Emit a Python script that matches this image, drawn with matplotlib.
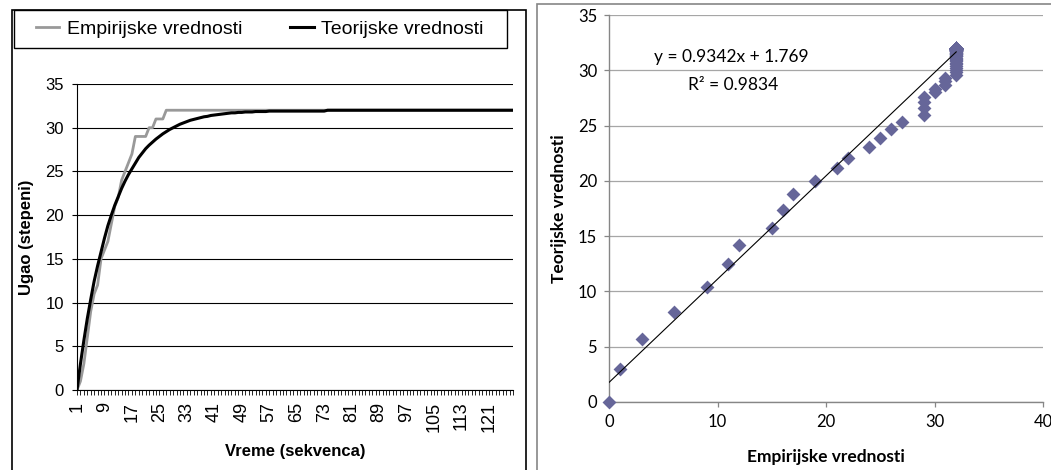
from matplotlib import pyplot as plt
from matplotlib.patches import Rectangle
import numpy as np

# values, one per sequence step (1..128)
empirijske = [0, 1, 3, 6, 9, 11, 12, 15, 16, 17, 19, 21, 22, 24, 25, 26, 27,
              29, 29, 29, 29, 30, 30, 31, 31, 31] + [32] * 102

teorijske = [0, 2.98, 5.67, 8.17, 10.37, 12.45, 14.2, 15.76, 17.36, 18.8,
             20.0, 21.13, 22.09, 23.06, 23.9, 24.65, 25.3, 25.95, 26.6, 27.1,
             27.6, 28.0, 28.35, 28.7, 29.0, 29.3, 29.55, 29.8, 30.0, 30.2,
             30.4, 30.55, 30.7, 30.85, 30.95, 31.05, 31.15, 31.25, 31.3, 31.4,
             31.45, 31.5, 31.55, 31.6, 31.65, 31.7, 31.7, 31.75, 31.75, 31.8,
             31.8, 31.8, 31.85, 31.85, 31.85, 31.85, 31.9, 31.9, 31.9, 31.9,
             31.9, 31.9, 31.9, 31.9, 31.9, 31.9, 31.9, 31.9, 31.9, 31.9,
             31.9, 31.9, 31.9] + [32] * 55

sekvenca = list(range(1, len(empirijske) + 1))
sekvenca_labels = [str(s) if (s - 1) % 8 == 0 else '' for s in sekvenca]

# trend line as printed on the chart
nagib = 0.9342
odsecak = 1.769
r2 = 0.9834

W, H = 1051, 470
fig = plt.figure(figsize=(W / 100, H / 100), dpi=100)


def px(x0, y0, x1, y1):
    # pixel box -> figure fraction [left, bottom, width, height]
    return [x0 / W, 1 - y1 / H, (x1 - x0) / W, (y1 - y0) / H]


# ---------- left chart ----------
arial = 'Liberation Sans'
ax1 = fig.add_axes(px(77, 84, 513, 390))
ax1.plot(sekvenca, empirijske, color='#999999', lw=2.0, label='Empirijske vrednosti')
ax1.plot(sekvenca, teorijske, color='black', lw=2.2, label='Teorijske vrednosti')
ax1.set_xlim(1, len(sekvenca))
ax1.set_ylim(0, 35)
ax1.set_yticks(range(0, 36, 5))
ax1.set_xticks(sekvenca)
ax1.set_xticklabels(sekvenca_labels, rotation=90, fontsize=13, family=arial)
for lab in ax1.get_yticklabels():
    lab.set_family(arial)
    lab.set_fontsize(12)
ax1.tick_params(axis='x', length=3.5, width=0.6, pad=5)
ax1.tick_params(axis='y', length=3.5, width=0.8, pad=6)
ax1.grid(axis='y', color='black', lw=0.8)
ax1.set_axisbelow(True)
for s in ['top', 'right']:
    ax1.spines[s].set_visible(False)
ax1.spines['left'].set_color('black')
ax1.spines['bottom'].set_color('black')
ax1.set_xlabel('Vreme (sekvenca)', fontsize=12, fontweight='bold', family=arial)
ax1.xaxis.set_label_coords(0.5, -0.2)
ax1.xaxis.label.set_va('center')
ax1.set_ylabel('Ugao (stepeni)', fontsize=12, fontweight='bold', family=arial)
ax1.yaxis.set_label_coords(-0.115, 0.5)
ax1.yaxis.label.set_va('center')

# chart border and legend box
fig.patches.append(Rectangle((12 / W, -0.1), (526 - 12) / W, 1.1 - 10 / H,
                             transform=fig.transFigure, fill=False,
                             edgecolor='black', lw=1.2))
fig.patches.append(Rectangle((14 / W, 1 - 48 / H), (507 - 14) / W, 38 / H,
                             transform=fig.transFigure, fill=False,
                             edgecolor='black', lw=1.0))
fig.legend(handles=ax1.get_lines(), loc='center',
           bbox_to_anchor=(260 / W, 1 - 29 / H), ncol=2, frameon=False,
           prop={'family': arial, 'size': 14}, handlelength=1.2,
           handletextpad=0.4, columnspacing=2.45)

# ---------- right chart ----------
calibri = 'Lato'
siva = '#868686'
ax2 = fig.add_axes(px(609, 15, 1043, 402))
ax2.scatter(empirijske, teorijske, marker='D', s=50, color='#666699',
            zorder=3, linewidths=0, clip_on=False)
xt = np.array([min(empirijske), max(empirijske)])
ax2.plot(xt, nagib * xt + odsecak, color='black', lw=0.8, zorder=4)
ax2.set_xlim(0, 40)
ax2.set_ylim(0, 35)
ax2.set_xticks(range(0, 41, 10))
ax2.set_yticks(range(0, 36, 5))
for lab in ax2.get_xticklabels() + ax2.get_yticklabels():
    lab.set_family(calibri)
    lab.set_fontsize(12)
ax2.tick_params(length=3.5, width=0.9, color=siva, pad=5)
ax2.grid(axis='y', color='#a6a6a6', lw=0.9)
ax2.set_axisbelow(True)
for s in ['top', 'right']:
    ax2.spines[s].set_visible(False)
ax2.spines['left'].set_color(siva)
ax2.spines['bottom'].set_color(siva)
ax2.spines['left'].set_linewidth(1.0)
ax2.spines['bottom'].set_linewidth(1.0)
ax2.set_xlabel('Empirijske vrednosti', fontsize=12.5, fontweight='bold', family=calibri)
ax2.xaxis.set_label_coords(0.5, -0.142)
ax2.xaxis.label.set_va('center')
ax2.set_ylabel('Teorijske vrednosti', fontsize=12.5, fontweight='bold', family=calibri)
ax2.yaxis.set_label_coords(-0.115, 0.5)
ax2.yaxis.label.set_va('center')
ax2.text(11.3, 31.2, 'y = %.4fx + %.3f' % (nagib, odsecak), ha='center',
         va='center', fontsize=12.5, family=calibri)
ax2.text(11.4, 28.7, 'R² = %.4f' % r2, ha='center', va='center',
         fontsize=12.5, family=calibri)

fig.patches.append(Rectangle((537 / W, -0.1), 0.6, 1.1 - 4 / H,
                             transform=fig.transFigure, fill=False,
                             edgecolor=siva, lw=1.2))

fig.savefig('out.png', dpi=100)
